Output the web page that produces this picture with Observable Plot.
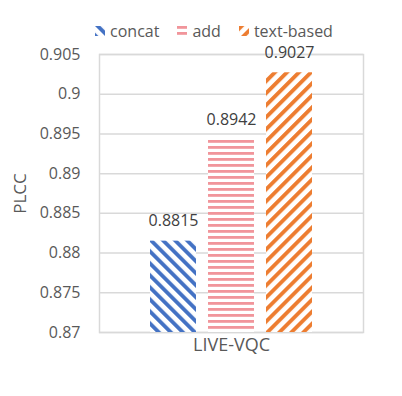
<!DOCTYPE html>
<html><head><meta charset="utf-8">
<script src="https://cdn.jsdelivr.net/npm/d3@7"></script>
<script src="https://cdn.jsdelivr.net/npm/@observablehq/plot@0.6"></script>
<style>
body{margin:0;background:#fff;font-family:"Open Sans",sans-serif;width:402px;height:396px;overflow:hidden;}
#legend{height:44px;box-sizing:border-box;padding-top:17px;padding-left:26px;display:flex;justify-content:center;align-items:center;gap:18px;font-size:16px;color:#595959;}
#legend .item{display:flex;align-items:center;gap:5px;}
#legend svg{display:block;}
#chart svg{display:block;}
</style></head><body>
<div id="legend"></div>
<div id="chart"></div>
<script>
const category = "LIVE-VQC";
const series = ["concat", "add", "text-based"];
const values = [0.8815, 0.8942, 0.9027];
const valueLabels = ["0.8815", "0.8942", "0.9027"];
const yTicks = [0.87, 0.875, 0.88, 0.885, 0.89, 0.895, 0.9, 0.905];
const yLabel = "PLCC";
const colors = ["#4472C4", "#F1959B", "#ED7D31"];
const patternIds = ["pat-concat", "pat-add", "pat-text"];

const data = series.map((s, i) => ({series: s, value: values[i], label: valueLabels[i], fill: `url(#${patternIds[i]})`}));

const plot = Plot.plot({
  width: 402, height: 352,
  marginLeft: 99, marginRight: 39, marginTop: 10, marginBottom: 64,
  style: {fontFamily: '"Open Sans", sans-serif', fontSize: "16px", color: "#595959", background: "#fff", overflow: "visible"},
  x: {domain: series, paddingInner: 0.215, paddingOuter: 0.87, axis: null},
  y: {domain: [yTicks[0], yTicks[yTicks.length - 1]], ticks: yTicks, tickFormat: d => String(+d.toFixed(3)),
      tickSize: 0, tickPadding: 19, label: yLabel, labelAnchor: "center", labelOffset: 86, labelArrow: "none"},
  color: {type: "identity"},
  marks: [
    Plot.ruleY(yTicks, {stroke: "#D9D9D9", strokeWidth: 1.5}),
    Plot.frame({stroke: "#D9D9D9", strokeWidth: 1.5}),
    Plot.barY(data, {x: "series", y1: yTicks[0], y2: "value", fill: "fill"}),
    Plot.text(data, {x: "series", y: "value", text: "label", dy: -20, fill: "#404040"}),
    Plot.text([category], {frameAnchor: "bottom", dy: 18, text: d => d, fill: "#595959", fontSize: 18})
  ]
});

const defs = `
<defs>
  <pattern id="pat-concat" patternUnits="userSpaceOnUse" width="8.5" height="8.5" patternTransform="rotate(-45)">
    <rect width="8.5" height="8.5" fill="#fff"/><rect width="3.9" height="8.5" fill="${colors[0]}"/>
  </pattern>
  <pattern id="pat-add" patternUnits="userSpaceOnUse" width="6" height="6">
    <rect width="6" height="6" fill="#fff"/><rect width="6" height="2.8" fill="${colors[1]}"/>
  </pattern>
  <pattern id="pat-text" patternUnits="userSpaceOnUse" width="8.5" height="8.5" patternTransform="rotate(45)">
    <rect width="8.5" height="8.5" fill="#fff"/><rect width="3.9" height="8.5" fill="${colors[2]}"/>
  </pattern>
</defs>`;
plot.insertAdjacentHTML("afterbegin", defs);
const yLab = plot.querySelector('[aria-label="y-axis label"] text');
if (yLab) yLab.style.fontSize = "17px";
document.getElementById("chart").appendChild(plot);

const legend = document.getElementById("legend");
series.forEach((s, i) => {
  const item = document.createElement("div");
  item.className = "item";
  item.innerHTML = `<svg width="10" height="10"><rect width="10" height="10" fill="url(#${patternIds[i]})"/></svg><span>${s}</span>`;
  legend.appendChild(item);
});
</script>
</body></html>
